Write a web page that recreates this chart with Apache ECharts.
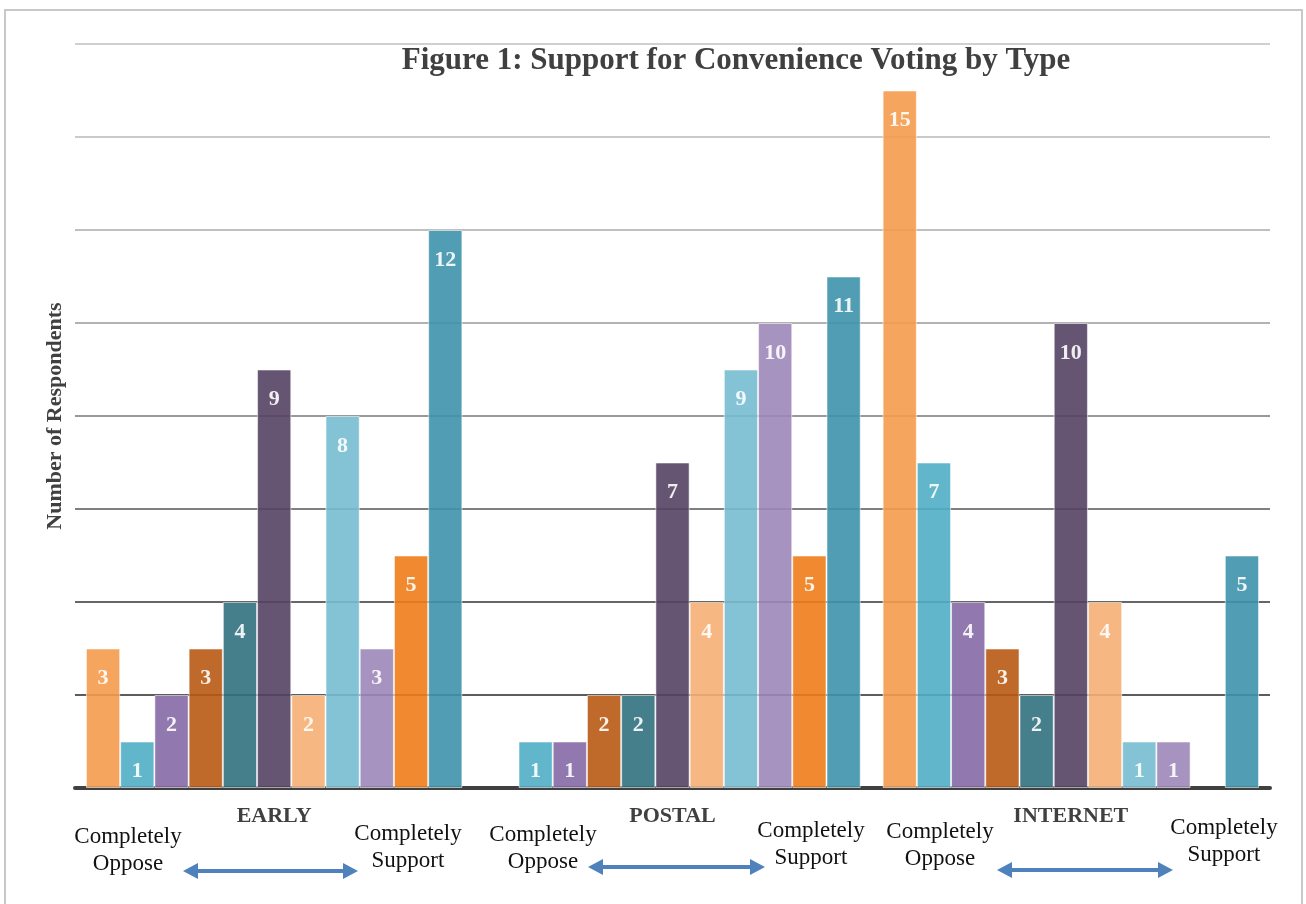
<!DOCTYPE html>
<html lang="en">
<head>
    <meta charset="UTF-8">
    <title>Support for Convenience Voting by Type</title>
    <style>
        html, body { margin: 0; padding: 0; background: #fff; }
        #main { width: 1306px; height: 904px; }
    </style>
</head>
<body>
<div id='main'></div>
<script src='https://cdn.jsdelivr.net/npm/echarts/dist/echarts.min.js'></script>
<script>
    // voting types on the x axis
    var categories = ['EARLY', 'POSTAL', 'INTERNET'];
    // respondents per scale point (completely oppose -> completely support)
    var early = [3, 1, 2, 3, 4, 9, 2, 8, 3, 5, 12];
    var postal = [0, 1, 1, 2, 2, 7, 4, 9, 10, 5, 11];
    var internet = [15, 7, 4, 3, 2, 10, 4, 1, 1, 0, 5];
    var scalePoints = ['0', '1', '2', '3', '4', '5', '6', '7', '8', '9', '10'];

    var barColors = ['#F49B4D', '#51AEC6', '#8569A5', '#B85913', '#31717E', '#544263',
        '#F6AF75', '#77BDD1', '#9D87B9', '#EE7C18', '#3E92AB'];

    var serif = '"Liberation Serif", "DejaVu Serif", serif';

    // a zero count draws no bar at all
    function bar(v) {
        return v === 0 ? null : v;
    }

    var series = scalePoints.map(function (name, i) {
        return {
            name: name,
            type: 'bar',
            barGap: 0,
            barCategoryGap: '5.5%',
            data: [bar(early[i]), bar(postal[i]), bar(internet[i])],
            itemStyle: {
                color: barColors[i],
                opacity: 0.9,
                borderColor: 'rgba(255,255,255,0.6)',
                borderWidth: 1
            },
            label: {
                show: true,
                position: 'insideTop',
                distance: 19,
                color: '#fff',
                fontFamily: serif,
                fontWeight: 'bold',
                fontSize: 22
            }
        };
    });

    // annotation under each group: "Completely Oppose <-> Completely Support"
    var notes = [
        {lx: 128, ly: 850, rx: 408, ry: 847, ax1: 183, ax2: 358, ay: 871},
        {lx: 543, ly: 848, rx: 811, ry: 844, ax1: 588, ax2: 765, ay: 867},
        {lx: 940, ly: 845, rx: 1224, ry: 841, ax1: 997, ax2: 1173, ay: 870}
    ];
    var graphics = [{
        type: 'rect',
        shape: {x: 5, y: 10, width: 1297, height: 900},
        style: {fill: 'none', stroke: '#c8c8c8', lineWidth: 2}
    }];
    notes.forEach(function (n) {
        graphics.push({
            type: 'text', x: n.lx, y: n.ly,
            style: {text: 'Completely\nOppose', font: '23px ' + serif, fill: '#111',
                textAlign: 'center', textVerticalAlign: 'middle', lineHeight: 27}
        });
        graphics.push({
            type: 'text', x: n.rx, y: n.ry,
            style: {text: 'Completely\nSupport', font: '23px ' + serif, fill: '#111',
                textAlign: 'center', textVerticalAlign: 'middle', lineHeight: 27}
        });
        graphics.push({
            type: 'line',
            shape: {x1: n.ax1 + 12, y1: n.ay, x2: n.ax2 - 12, y2: n.ay},
            style: {stroke: '#4F81BD', lineWidth: 4}
        });
        graphics.push({
            type: 'polygon',
            shape: {points: [[n.ax1, n.ay], [n.ax1 + 15, n.ay - 8], [n.ax1 + 15, n.ay + 8]]},
            style: {fill: '#4F81BD'}
        });
        graphics.push({
            type: 'polygon',
            shape: {points: [[n.ax2, n.ay], [n.ax2 - 15, n.ay - 8], [n.ax2 - 15, n.ay + 8]]},
            style: {fill: '#4F81BD'}
        });
    });

    var chart = echarts.init(document.getElementById('main'));
    var options = {
        animation: false,
        title: {
            text: 'Figure 1: Support for Convenience Voting by Type',
            left: 731,
            textAlign: 'center',
            top: 40,
            textStyle: {
                color: '#404040',
                fontFamily: serif,
                fontWeight: 'bold',
                fontSize: 31
            }
        },
        grid: {
            left: 75,
            right: 36,
            top: 44,
            bottom: 116
        },
        xAxis: {
            type: 'category',
            data: categories,
            axisTick: {show: false},
            axisLine: {
                lineStyle: {color: '#404040', width: 4}
            },
            axisLabel: {
                margin: 17,
                color: '#404040',
                fontFamily: serif,
                fontWeight: 'bold',
                fontSize: 22
            }
        },
        yAxis: {
            type: 'value',
            min: 0,
            max: 16,
            interval: 2,
            name: 'Number of Respondents',
            nameLocation: 'middle',
            nameGap: 9,
            nameTextStyle: {
                color: '#404040',
                fontFamily: serif,
                fontWeight: 'bold',
                fontSize: 22
            },
            axisLabel: {show: false},
            axisLine: {show: false},
            axisTick: {show: false},
            splitLine: {
                show: true,
                lineStyle: {
                    width: 1.5,
                    color: ['#404040', '#262626', '#333333', '#555555', '#777777',
                        '#999999', '#aaaaaa', '#b8b8b8', '#c0c0c0']
                }
            }
        },
        series: series,
        graphic: graphics
    };
    chart.setOption(options);
</script>
</body>
</html>
